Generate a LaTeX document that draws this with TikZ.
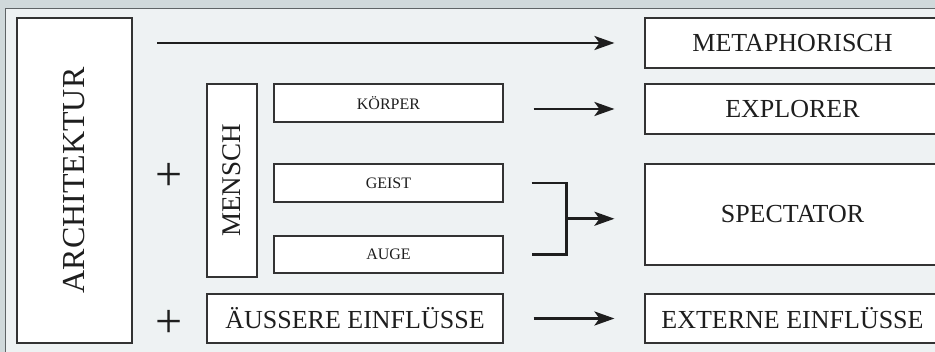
\documentclass[tikz,border=0pt]{standalone}
\usepackage{fontspec}
\setmainfont{Liberation Serif}
\usetikzlibrary{arrows.meta,calc}
\definecolor{outerbg}{HTML}{D0D9DB}
\definecolor{panelbg}{HTML}{EEF2F3}
\definecolor{panelline}{HTML}{5F6466}
\definecolor{boxline}{HTML}{333333}
\definecolor{ink}{HTML}{1E1E1E}
\tikzset{
  box/.style={draw=boxline, line width=1.1pt, fill=white, inner sep=0pt, text=ink, anchor=center},
  bigtxt/.style={font=\fontsize{26}{30}\selectfont},
  smalltxt/.style={font=\fontsize{16}{19}\selectfont},
  flow/.style={draw=ink, line width=2.8pt, -{Stealth[length=20pt,width=14pt,inset=5pt]}},
  bracketline/.style={draw=ink, line width=2.8pt},
  plussign/.style={anchor=base, inner sep=0pt, text=ink, font=\fontsize{48}{50}\selectfont}
}
\begin{document}
\begin{tikzpicture}[x=1pt,y=-1pt]
\useasboundingbox (0,0) rectangle (935,352);
\clip (0,0) rectangle (935,352);
\fill[outerbg] (0,0) rectangle (935,352);
\draw[panelline, fill=panelbg, line width=1.5pt] (5.5,8.5) rectangle (980,400);

% left column
\node[box, rotate=90, minimum width=325pt, minimum height=115pt,
      font=\fontsize{32}{36}\selectfont] (arch) at (74.5,180.5) {ARCHITEKTUR};
\node[plussign] (plus1) at (169,191) {+};
\node[plussign] (plus2) at (169,338) {+};
\node[box, rotate=90, minimum width=193pt, minimum height=50pt,
      font=\fontsize{27}{30}\selectfont] (mensch) at (232,180.5) {MENSCH};

% middle boxes
\node[box, smalltxt, minimum width=229pt, minimum height=38pt] (koerper) at (388.5,103) {KÖRPER};
\node[box, smalltxt, minimum width=229pt, minimum height=38pt] (geist) at (388.5,183) {GEIST};
\node[box, smalltxt, minimum width=229pt, minimum height=37pt] (auge) at (388.5,254.5) {AUGE};
\node[box, bigtxt, minimum width=296pt, minimum height=49pt] (aeussere) at (355,318.5) {ÄUSSERE EINFLÜSSE};

% right boxes
\node[box, bigtxt, minimum width=295pt, minimum height=50pt] (meta) at (792.5,43) {METAPHORISCH};
\node[box, bigtxt, minimum width=295pt, minimum height=50pt] (explorer) at (792.5,109) {EXPLORER};
\node[box, bigtxt, minimum width=295pt, minimum height=101pt] (spectator) at (792.5,214.5) {SPECTATOR};
\node[box, bigtxt, minimum width=295pt, minimum height=49pt] (externe) at (792.5,318.5) {EXTERNE EINFLÜSSE};

% connectors
\coordinate (topstart) at (157,43);
\draw[flow] (topstart) -- ([xshift=-30pt]meta.west);

\coordinate (k1) at ([xshift=30pt]koerper.east);
\draw[flow] (k1 |- explorer.west) -- ([xshift=-30pt]explorer.west);

\coordinate (bt) at ([xshift=28pt]geist.east);
\coordinate (bb) at ([xshift=28pt]auge.east);
\coordinate (bj) at ([xshift=63pt]geist.east);
\draw[bracketline] (bt) -- (bj) -- (bj |- bb) -- (bb);
\coordinate (bm) at ($(bj)!0.5!(bj |- bb)$);
\coordinate (spx) at ([xshift=-30pt]spectator.west);
\draw[flow] (bm) -- (bm -| spx);

\draw[flow] ([xshift=30pt]aeussere.east) -- ([xshift=-30pt]externe.west);
\end{tikzpicture}
\end{document}
